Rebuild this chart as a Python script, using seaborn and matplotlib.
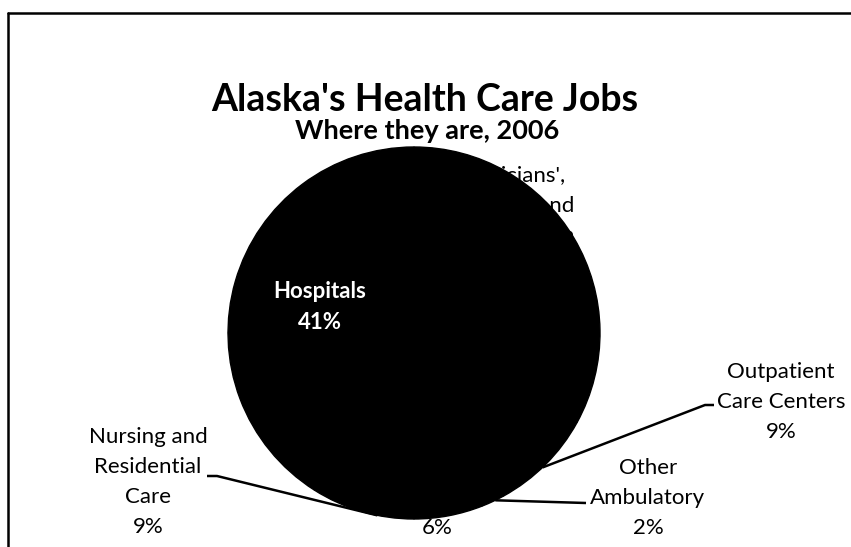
import matplotlib
matplotlib.use("Agg")
import matplotlib.pyplot as plt
import seaborn as sns
import numpy as np

# Alaska health care employment by setting, 2006 (percent of jobs)
sectors = [
    "Physicians', Dentists' and Other Health Practitioners' Offices",
    "Outpatient Care Centers",
    "Other Ambulatory",
    "Home Health Care",
    "Nursing and Residential Care",
    "Hospitals",
]
shares = [33, 9, 2, 6, 9, 41]
label_lines = [
    "Physicians',\nDentists' and\nOther Health\nPractitioners'\nOffices",
    "Outpatient\nCare Centers",
    "Other\nAmbulatory",
    "Home Health\nCare",
    "Nursing and\nResidential\nCare",
    "Hospitals",
]
title = "Alaska's Health Care Jobs"
subtitle = "Where they are, 2006"

sns.set_theme(style="white")
plt.rcParams["font.family"] = ["Lato", "DejaVu Sans"]
plt.rcParams["text.color"] = "black"

W, H = 851, 547
fig = plt.figure(figsize=(W / 100, H / 100), dpi=100)
ax = fig.add_axes([0, 0, 1, 1])


def py(y):
    """Convert a top-down pixel row to the upward axis coordinate."""
    return H - y


cx, cy, rad = 414, py(333), 186
wedges, _ = ax.pie(
    shares,
    colors=["black"] * len(shares),
    startangle=90,
    counterclock=False,
    center=(cx, cy),
    radius=rad,
    wedgeprops=dict(linewidth=1.0, edgecolor="black"),
    frame=True,
)
ax.set_xlim(0, W)
ax.set_ylim(0, H)
ax.set_aspect("equal")
ax.axis("off")


def edge_point(w, frac=0.5):
    ang = np.deg2rad(w.theta1 + (w.theta2 - w.theta1) * frac)
    return (w.center[0] + w.r * np.cos(ang), w.center[1] + w.r * np.sin(ang))


label_font = dict(fontsize=16, ha="center", va="center", linespacing=1.63,
                  multialignment="center")

# label blocks: (x, y centre in pixels, colour, weight)
placements = [
    (510, 251, "black", "normal"),
    (781, 402, "black", "normal"),
    (648, 498, "black", "normal"),
    (437, 498, "black", "normal"),
    (148, 482, "black", "normal"),
    (320, 307, "white", "bold"),
]
for text, share, (lx, ly, col, wt) in zip(label_lines, shares, placements):
    ax.text(lx, py(ly), f"{text}\n{share}%", color=col, fontweight=wt, **label_font)

# leader lines from slice edges to the outside labels: (slice, attach fraction, bends)
leaders = [
    (1, 0.46, [(705, 405), (714, 405)]),
    (2, 0.6, [(586, 503)]),
    (4, 0.65, [(217, 476), (207, 476)]),
]
for idx, frac, pts in leaders:
    x0, y0 = edge_point(wedges[idx], frac)
    xs = [x0] + [p[0] for p in pts]
    ys = [y0] + [py(p[1]) for p in pts]
    ax.plot(xs, ys, color="black", lw=1.8, solid_capstyle="butt")

ax.text(425, py(100), title, fontsize=27, fontweight="bold", ha="center", va="center")
ax.text(427, py(131), subtitle, fontsize=19.5, fontweight="bold", ha="center", va="center")

# chart border
ax.plot([8, 8], [0, py(13)], color="black", lw=1.8)
ax.plot([8, W], [py(13), py(13)], color="black", lw=1.8)

fig.savefig("out.png", dpi=100, facecolor="white")
